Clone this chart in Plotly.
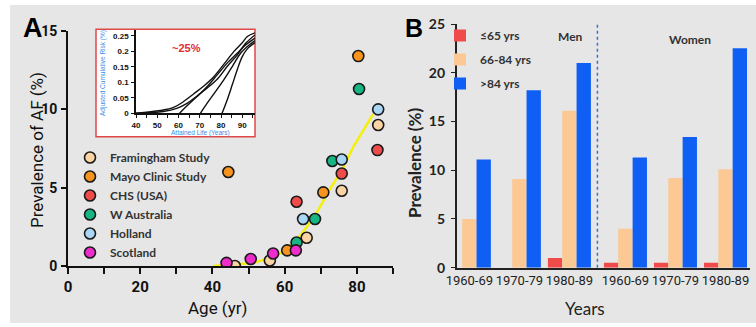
import plotly.graph_objects as go

# ---------------- Panel A data ----------------
fram_age = [46.2, 55.9, 66.1, 75.8, 85.9]
fram_prev = [0.0, 0.35, 1.8, 4.8, 9.0]
mayo_age = [44.4, 60.7, 70.7, 80.4]
mayo_prev = [6.0, 1.0, 4.7, 13.4]
chs_age = [63.3, 75.8, 85.7]
chs_prev = [4.1, 5.9, 7.4]
wa_age = [63.3, 68.4, 73.2, 80.6]
wa_prev = [1.5, 3.0, 6.7, 11.3]
hol_age = [65.1, 75.8, 85.9]
hol_prev = [3.0, 6.8, 10.0]
sco_age = [43.9, 50.6, 56.8, 63.1]
sco_prev = [0.2, 0.45, 0.8, 1.0]
fit_age = [40.2, 51.3, 57.8, 61.5, 64.7, 68.4, 72.5, 75.8, 79.0, 84.5]
fit_prev = [0.0, 0.19, 0.65, 1.25, 2.06, 3.2, 4.9, 6.1, 7.6, 9.7]

# inset: adjusted cumulative risk curves
c1_age = [40, 51.4, 57.7, 62.4, 67.1, 71.9, 76.6, 81.3, 86.1, 90.0, 92.4, 96.0]
c1_risk = [0, 0.009, 0.019, 0.038, 0.0625, 0.088, 0.118, 0.158, 0.2, 0.228, 0.248, 0.26]
c2_age = [40, 52.9, 59.2, 64.0, 68.7, 73.4, 78.2, 82.9, 87.6, 91.6, 96.0]
c2_risk = [0, 0.006, 0.016, 0.032, 0.056, 0.081, 0.11, 0.151, 0.188, 0.226, 0.253]
c3_age = [60.5, 64.0, 68.7, 73.4, 78.2, 82.9, 87.6, 91.6, 96.0]
c3_risk = [0, 0.024, 0.054, 0.086, 0.124, 0.162, 0.194, 0.221, 0.243]
c4_age = [70.3, 73.4, 77.4, 81.3, 85.3, 89.2, 92.4, 96.0]
c4_risk = [0, 0.032, 0.07, 0.108, 0.151, 0.194, 0.216, 0.235]
c5_age = [80.5, 82.9, 85.3, 87.6, 90.0, 92.4, 96.0]
c5_risk = [0, 0.043, 0.092, 0.14, 0.183, 0.208, 0.228]

# ---------------- Panel B data ----------------
periods = ["1960-69", "1970-79", "1980-89", "1960-69", "1970-79", "1980-89"]
sex = ["Men", "Men", "Men", "Women", "Women", "Women"]
le65 = [0, 0, 1.0, 0.5, 0.5, 0.5]
a66_84 = [5.0, 9.1, 16.1, 4.0, 9.2, 10.1]
gt84 = [11.1, 18.2, 21.0, 11.3, 13.4, 22.5]

W, H = 756, 327
def px(x): return x / W
def py(y): return 1 - y / H

NARROW = "Roboto, Liberation Sans, sans-serif"
ARIAL = "Liberation Sans, Arial, sans-serif"
LATO = "Lato, Noto Sans, sans-serif"
GRAY = "#e6e6e6"

fig = go.Figure()

# fit line
fig.add_trace(go.Scatter(x=fit_age, y=fit_prev, mode="lines", line=dict(color="#f5f00a", width=2.5),
                         showlegend=False, xaxis="x", yaxis="y", hoverinfo="skip"))

series = [
    ("Framingham Study", fram_age, fram_prev, "#fbd4a4"),
    ("Mayo Clinic Study", mayo_age, mayo_prev, "#f7941d"),
    ("CHS (USA)", chs_age, chs_prev, "#ef4b4b"),
    ("W Australia", wa_age, wa_prev, "#17b583"),
    ("Holland", hol_age, hol_prev, "#a9d6f5"),
    ("Scotland", sco_age, sco_prev, "#ee2ccc"),
]
for name, xs, ys, col in series:
    fig.add_trace(go.Scatter(x=xs, y=ys, mode="markers", name=name,
                             marker=dict(color=col, size=11, line=dict(color="#1a1a1a", width=1.6)),
                             xaxis="x", yaxis="y", legend="legend"))

# inset curves
for xs, ys in [(c1_age, c1_risk), (c2_age, c2_risk), (c3_age, c3_risk), (c4_age, c4_risk), (c5_age, c5_risk)]:
    fig.add_trace(go.Scatter(x=xs, y=ys, mode="lines", line=dict(color="#111", width=1.4, shape="spline"),
                             showlegend=False, xaxis="x3", yaxis="y3", hoverinfo="skip"))

# Panel B bars
xpos = [i + (0.12 if s == "Women" else 0) for i, s in enumerate(sex)]
for name, vals, col in [("\u226465 yrs", le65, "#f04a4a"), ("66-84 yrs", a66_84, "#fcc995"), (">84 yrs", gt84, "#105ff5")]:
    fig.add_trace(go.Bar(x=xpos, y=vals, name=name, marker=dict(color=col, line=dict(width=0)),
                         xaxis="x2", yaxis="y2", legend="legend2", legendgroup=name))

axis_common = dict(showgrid=False, zeroline=False, automargin=False)

fig.update_layout(
    width=W, height=H, autosize=False,
    margin=dict(l=0, r=0, t=0, b=0),
    paper_bgcolor="white", plot_bgcolor="rgba(0,0,0,0)",
    barmode="group", bargap=0.14, bargroupgap=0,
    xaxis=dict(domain=[px(68), px(393)], range=[0, 90], anchor="y", dtick=20, tick0=0,
               ticks="outside", ticklen=6, tickwidth=1.5, tickcolor="#111",
               minor=dict(dtick=10, ticks="outside", ticklen=6, tickwidth=1.5, tickcolor="#111"),
               showline=True, linecolor="#111", linewidth=1.6,
               tickfont=dict(family=NARROW, size=15, color="#111", weight="bold"), **axis_common),
    yaxis=dict(domain=[py(266), py(31)], range=[0, 15], anchor="x", tickvals=[0, 5, 10, 15],
               ticks="outside", ticklen=5, tickwidth=1.5, tickcolor="#111", ticklabelstandoff=1,
               showline=True, linecolor="#111", linewidth=1.6,
               tickfont=dict(family=NARROW, size=14, color="#111", weight="bold"), **axis_common),
    xaxis3=dict(domain=[px(136), px(255)], range=[40, 96], anchor="y3", dtick=10, tick0=40,
                ticks="outside", ticklen=3, tickwidth=1, tickcolor="#111",
                minor=dict(dtick=5, ticks="outside", ticklen=3, tickwidth=1, tickcolor="#111"),
                showline=True, linecolor="#111", linewidth=1.5, ticklabelstandoff=0,
                tickfont=dict(family=ARIAL, size=8, color="#111", weight="bold"), **axis_common),
    yaxis3=dict(domain=[py(113.3), py(30)], range=[0, 0.269], anchor="x3", dtick=0.05, tick0=0,
                ticks="outside", ticklen=3, tickwidth=1, tickcolor="#111", ticklabelstandoff=1,
                showline=True, linecolor="#111", linewidth=1.5,
                tickfont=dict(family=ARIAL, size=8, color="#111", weight="bold"), **axis_common),
    xaxis2=dict(domain=[px(456.7), px(750)], range=[-0.253, 5.61], anchor="y2",
                tickvals=xpos, ticktext=periods, ticks="", tickangle=0,
                showline=True, linecolor="#222", linewidth=1.6,
                tickfont=dict(family=NARROW, size=13, color="#222"), **axis_common),
    yaxis2=dict(domain=[py(267.7), py(24)], range=[0, 25], anchor="x2", dtick=5, tick0=0,
                ticks="outside", ticklen=4, tickwidth=1.2, tickcolor="#222", ticklabelstandoff=3,
                showline=True, linecolor="#222", linewidth=1.6,
                tickfont=dict(family=LATO, size=14, color="#222", weight="bold"), **axis_common),
    legend=dict(x=px(70), y=py(143), xanchor="left", yanchor="top", bgcolor="rgba(0,0,0,0)",
                font=dict(family=LATO, size=12, color="#333", weight="bold"), itemwidth=30,
                tracegroupgap=0),
    legend2=dict(x=px(440), y=py(21), xanchor="left", yanchor="top", bgcolor="rgba(0,0,0,0)",
                 font=dict(family=LATO, size=12, color="#333", weight="bold"), itemwidth=30,
                 tracegroupgap=5),
    showlegend=True,
)

shapes = [
    dict(type="rect", xref="paper", yref="paper", x0=px(10), x1=1, y0=py(323), y1=py(5),
         fillcolor=GRAY, line=dict(width=0), layer="below"),
    dict(type="rect", xref="paper", yref="paper", x0=px(96), x1=px(255), y0=py(136.7), y1=py(29.3),
         fillcolor="white", line=dict(color="#e04848", width=1.5), layer="below"),
    dict(type="line", xref="x2", yref="y2", x0=2.56, x1=2.56, y0=0, y1=25,
         line=dict(color="#3b6fd0", width=1.5, dash="dot"), layer="above"),
]
fig.update_layout(shapes=shapes)

ann = [
    dict(text="<b>A</b>", x=px(33), y=py(28), font=dict(family=ARIAL, size=27, color="#000")),
    dict(text="<b>B</b>", x=px(414), y=py(28), font=dict(family=ARIAL, size=25, color="#000")),
    dict(text="Prevalence of AF (%)", x=px(37), y=py(150), textangle=-90,
         font=dict(family=NARROW, size=17, color="#111")),
    dict(text="Age (yr)", x=px(217), y=py(308), font=dict(family=NARROW, size=17, color="#111")),
    dict(text="Adjusted Cumulative Risk (%)", x=px(103), y=py(73), textangle=-90,
         font=dict(family=ARIAL, size=6.5, color="#3a8ee6")),
    dict(text="Attained Life (Years)", x=px(200), y=py(132.5),
         font=dict(family=ARIAL, size=6.5, color="#3a8ee6")),
    dict(text="<b>~25%</b>", x=px(186), y=py(48), font=dict(family=ARIAL, size=11, color="#e03030")),
    dict(text="Prevalence (%)", x=px(414), y=py(163), textangle=-90,
         font=dict(family=LATO, size=17, color="#222", weight="bold")),
    dict(text="Years", x=px(585), y=py(308), font=dict(family=LATO, size=17, color="#222")),
    dict(text="Men", x=px(570), y=py(36), font=dict(family=LATO, size=12, color="#333", weight="bold")),
    dict(text="Women", x=px(690), y=py(40), font=dict(family=LATO, size=12, color="#333", weight="bold")),
]
for a in ann:
    a.setdefault("xref", "paper")
    a.setdefault("yref", "paper")
    a.setdefault("showarrow", False)
    a.setdefault("xanchor", "center")
    a.setdefault("yanchor", "middle")
fig.update_layout(annotations=ann)

fig.write_html("out.html", config={"displayModeBar": False},
               post_script="document.body.style.margin='0';")
